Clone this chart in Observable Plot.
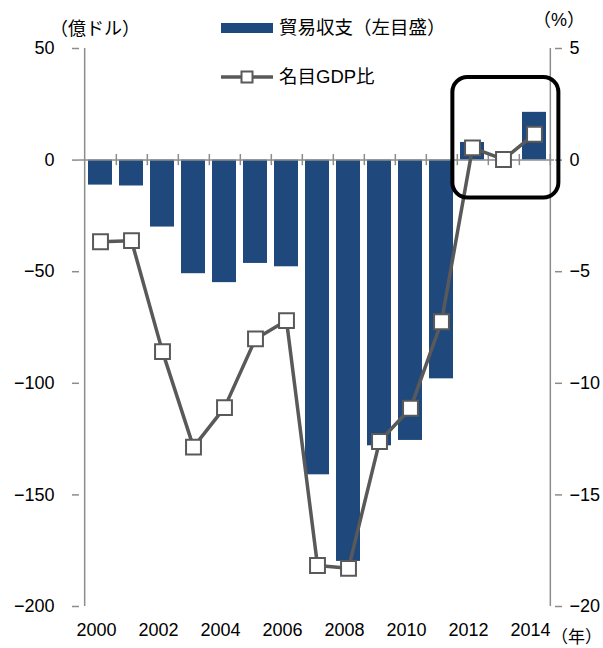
<!DOCTYPE html>
<html><head><meta charset="utf-8">
<script src="https://cdn.jsdelivr.net/npm/d3@7"></script>
<script src="https://cdn.jsdelivr.net/npm/@observablehq/plot@0.6"></script>
<style>body{margin:0;background:#fff} svg{display:block}</style>
</head><body><div id="chart"></div>
<script>
const years = ["2000","2001","2002","2003","2004","2005","2006","2007","2008","2009","2010","2011","2012","2013","2014"];
const tradeBalance = [-11.2, -11.6, -30, -50.9, -54.9, -46.3, -47.8, -141, -179.8, -128, -125.6, -98, 7.9, 0.1, 21.4];
const gdpRatio = [-3.66, -3.61, -8.58, -12.86, -11.09, -8.01, -7.19, -18.16, -18.29, -12.61, -11.12, -7.24, 0.55, 0.03, 1.16];
const yearTickLabels = ["2000","2002","2004","2006","2008","2010","2012","2014"];
const leftTicks = [50, 0, -50, -100, -150, -200];
const rightTicks = [5, 0, -5, -10, -15, -20];
const legendLabels = ["貿易収支（左目盛）", "名目GDP比"];
const unitLeft = "（億ドル）", unitRight = "（%）", unitX = "（年）";
const highlightYears = ["2012", "2014"];
const highlightRange = [37, -17];

const data = years.map((y, i) => ({year: y, balance: tradeBalance[i], ratio: gdpRatio[i]}));
const BAR = "#1F497D", LINE = "#595959", AXIS = "#8c8c8c";
const W = 603, H = 648, mL = 79, mR = 49, mT = 48, mB = 42;
const step = (W - mL - mR) / years.length;
const FONT = "'Liberation Sans', 'Noto Sans CJK JP', sans-serif";
const fmt = d => d < 0 ? "\u2212" + Math.abs(d) : String(d);

const chart = Plot.plot({
  width: W, height: H, marginLeft: mL, marginRight: mR, marginTop: mT, marginBottom: mB,
  style: {fontFamily: FONT, fontSize: "18px", color: "#000", background: "#fff", overflow: "visible"},
  x: {type: "band", domain: years, paddingInner: 0.24, paddingOuter: 0.12, axis: null},
  y: {domain: [-200, 50]},
  marks: [
    Plot.barY(data, {x: "year", y: "balance", fill: BAR}),
    Plot.ruleY([0], {stroke: AXIS, strokeWidth: 1.5}),
    Plot.ruleX(years, {x: d => d, y1: -2.5, y2: 2.5, dx: step / 2, stroke: AXIS, strokeWidth: 1.5}),
    Plot.ruleX([years[0]], {x: d => d, y1: -200, y2: 50, dx: -step / 2, stroke: AXIS, strokeWidth: 1.5}),
    Plot.ruleX([years[years.length - 1]], {x: d => d, y1: -200, y2: 50, dx: step / 2, stroke: AXIS, strokeWidth: 1.5}),
    Plot.axisY(leftTicks, {anchor: "left", tickSize: 7, tickPadding: 18, stroke: AXIS, strokeWidth: 1.5, label: null, tickFormat: fmt}),
    Plot.axisY(leftTicks, {anchor: "right", tickSize: 7, tickPadding: 8, stroke: AXIS, strokeWidth: 1.5, label: null,
      tickFormat: d => fmt(rightTicks[leftTicks.indexOf(d)])}),
    Plot.text(yearTickLabels, {x: d => d, frameAnchor: "bottom", dy: 24, dx: -4, lineAnchor: "middle", fill: "#000"}),
    Plot.lineY(data, {x: "year", y: d => d.ratio * 10, stroke: LINE, strokeWidth: 3.5}),
    Plot.dot(data, {x: "year", y: d => d.ratio * 10, symbol: "square", r: 8.4, fill: "white", stroke: LINE, strokeWidth: 2})
  ]
});
document.getElementById("chart").appendChild(chart);

const svg = d3.select(chart);
const xs = chart.scale("x"), ys = chart.scale("y");
const cx = y => xs.apply(y) + xs.bandwidth / 2;
// highlight box
const bx1 = cx(highlightYears[0]) - 0.62 * step, bx2 = cx(highlightYears[1]) + 0.77 * step;
const by1 = ys.apply(highlightRange[0]), by2 = ys.apply(highlightRange[1]);
svg.append("rect").attr("x", bx1).attr("y", by1).attr("width", bx2 - bx1).attr("height", by2 - by1)
  .attr("rx", 15).attr("ry", 15).attr("fill", "none").attr("stroke", "#000").attr("stroke-width", 4);

const g = svg.append("g").attr("font-family", FONT).attr("fill", "#000").attr("text-anchor", "start");
// unit labels
g.append("text").attr("x", 95).attr("y", 29).attr("dy", "0.35em").attr("text-anchor", "middle").attr("font-size", 18).text(unitLeft);
g.append("text").attr("x", 559).attr("y", 20).attr("dy", "0.35em").attr("text-anchor", "middle").attr("font-size", 18).text(unitRight);
g.append("text").attr("x", 602).attr("y", 637).attr("dy", "0.35em").attr("text-anchor", "end").attr("font-size", 17).text(unitX);
// legend
g.append("rect").attr("x", 221).attr("y", 23).attr("width", 52).attr("height", 10).attr("fill", BAR);
g.append("text").attr("x", 279).attr("y", 28).attr("dy", "0.35em").attr("font-size", 18.5).text(legendLabels[0]);
g.append("line").attr("x1", 221).attr("x2", 273).attr("y1", 77).attr("y2", 77).attr("stroke", LINE).attr("stroke-width", 3.5);
g.append("rect").attr("x", 241.5).attr("y", 71.5).attr("width", 11).attr("height", 11).attr("fill", "white").attr("stroke", LINE).attr("stroke-width", 2);
g.append("text").attr("x", 279).attr("y", 77).attr("dy", "0.35em").attr("font-size", 18.5).text(legendLabels[1]);
</script>
</body></html>
